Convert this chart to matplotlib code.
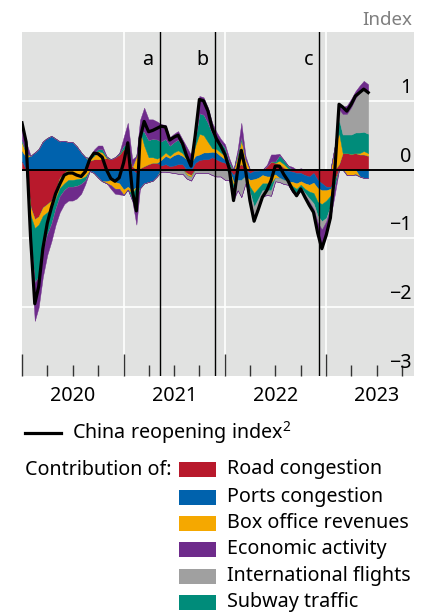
import matplotlib
matplotlib.use("Agg")
import matplotlib.pyplot as plt
import matplotlib.transforms as mtransforms
from matplotlib.lines import Line2D
from matplotlib.patches import Rectangle
import numpy as np
import pandas as pd

plt.rcParams['font.family'] = ['Noto Sans', 'DejaVu Sans']
plt.rcParams['mathtext.fontset'] = 'custom'
plt.rcParams['mathtext.rm'] = 'Noto Sans'

# ---------------- data (semi-monthly readings) ----------------
dates = pd.to_datetime([f"{y}-{m:02d}-{d:02d}" for y in range(2020, 2024)
                        for m in range(1, 13) for d in (1, 16)])
dates = dates[dates <= pd.Timestamp("2023-06-01")]

reopening_index = [
    0.68, 0.40, -1.00, -1.95, -1.70, -1.15, -0.78, -0.55, -0.35, -0.21,
    -0.08, -0.05, -0.05, -0.08, -0.10, -0.03, 0.15, 0.24, 0.23, 0.18,
    -0.01, -0.13, -0.17, -0.12, 0.10, 0.39, -0.30, -0.60, 0.45, 0.70,
    0.55, 0.57, 0.60, 0.63, 0.62, 0.43, 0.47, 0.50, 0.38, 0.20,
    0.05, 0.50, 1.02, 1.00, 0.85, 0.60, 0.45, 0.35, 0.22, 0.02,
    -0.45, 0.00, 0.28, 0.00, -0.45, -0.75, -0.58, -0.40, -0.30, -0.16,
    0.05, 0.05, -0.07, -0.16, -0.29, -0.38, -0.28, -0.40, -0.52, -0.62,
    -0.92, -1.15, -0.95, -0.70, 0.00, 0.95, 0.91, 0.85, 0.95, 1.07,
    1.12, 1.17, 1.12]

road_congestion = [
    0.12, 0.00, -0.55, -0.72, -0.68, -0.55, -0.50, -0.45, -0.30, -0.12,
    -0.05, 0.00, 0.00, 0.00, 0.00, 0.03, 0.13, 0.15, 0.15, 0.15,
    0.17, 0.15, 0.18, 0.22, 0.30, 0.30, 0.05, -0.05, 0.02, 0.05,
    0.08, 0.10, 0.10, 0.06, 0.08, 0.05, 0.06, 0.08, 0.08, -0.05,
    -0.08, 0.10, 0.14, 0.15, 0.15, 0.18, 0.15, 0.12, 0.10, 0.05,
    -0.08, 0.05, 0.08, 0.03, -0.05, -0.02, -0.02, 0.00, 0.05, 0.12,
    0.10, 0.08, 0.03, -0.02, -0.03, -0.05, -0.05, -0.08, -0.10, -0.05,
    -0.15, -0.20, -0.25, -0.25, -0.15, 0.08, 0.24, 0.24, 0.23, 0.24,
    0.22, 0.22, 0.20]

ports_congestion = [
    0.15, 0.18, 0.20, 0.25, 0.30, 0.41, 0.46, 0.49, 0.45, 0.41,
    0.42, 0.40, 0.40, 0.34, 0.25, 0.15, -0.02, -0.05, -0.12, -0.17,
    -0.17, -0.15, -0.18, -0.20, -0.29, -0.25, -0.30, -0.20, -0.27, -0.20,
    -0.18, -0.16, -0.10, 0.08, 0.12, 0.12, 0.15, 0.15, 0.12, 0.15,
    0.10, 0.10, 0.08, 0.10, 0.10, 0.08, 0.10, 0.08, 0.05, 0.02,
    -0.10, -0.15, -0.15, -0.10, -0.10, -0.12, -0.10, -0.08, -0.10, -0.10,
    -0.07, -0.12, -0.15, -0.15, -0.15, -0.15, -0.12, -0.12, -0.12, -0.14,
    -0.12, -0.10, -0.05, -0.03, 0.00, 0.00, 0.00, 0.00, 0.00, 0.00,
    -0.10, -0.12, -0.12]

box_office = [
    0.12, 0.05, -0.12, -0.13, -0.12, -0.12, -0.12, -0.12, -0.12, -0.15,
    -0.15, -0.15, -0.15, -0.14, -0.13, -0.10, 0.02, 0.05, 0.12, 0.10,
    -0.03, -0.08, -0.10, -0.08, -0.08, -0.04, -0.05, 0.20, 0.55, 0.30,
    0.10, 0.08, 0.06, 0.05, 0.05, 0.03, 0.04, 0.05, 0.04, -0.03,
    -0.03, 0.15, 0.30, 0.25, 0.15, 0.05, 0.05, 0.05, 0.05, -0.05,
    -0.05, 0.15, 0.35, 0.12, -0.10, -0.20, -0.15, -0.12, -0.10, -0.10,
    -0.05, 0.05, 0.05, 0.02, -0.06, -0.08, -0.05, -0.08, -0.10, -0.15,
    -0.20, -0.20, -0.15, -0.10, 0.35, 0.45, 0.00, -0.08, -0.08, -0.07,
    0.02, 0.05, 0.04]

subway_traffic = [
    0.04, 0.02, -0.35, -0.80, -0.75, -0.50, -0.32, -0.22, -0.15, -0.12,
    -0.10, -0.10, -0.10, -0.10, -0.08, -0.06, 0.02, 0.04, 0.03, 0.05,
    0.02, 0.00, 0.00, 0.02, 0.05, 0.08, -0.10, -0.15, 0.00, 0.20,
    0.25, 0.27, 0.28, 0.22, 0.20, 0.15, 0.15, 0.16, 0.10, 0.05,
    0.03, 0.10, 0.30, 0.30, 0.28, 0.22, 0.15, 0.15, 0.12, 0.05,
    -0.07, 0.05, 0.05, 0.00, -0.08, -0.20, -0.15, -0.10, -0.10, -0.10,
    0.02, 0.08, 0.06, 0.04, -0.05, -0.06, -0.04, -0.06, -0.10, -0.15,
    -0.20, -0.25, -0.25, -0.15, -0.10, 0.20, 0.27, 0.27, 0.28, 0.30,
    0.30, 0.28, 0.28]

international_flights = [
    0.00, 0.00, 0.00, 0.00, 0.00, 0.00, 0.00, 0.00, 0.00, 0.00,
    0.00, 0.00, 0.00, 0.00, 0.00, 0.00, 0.00, 0.00, 0.00, 0.00,
    0.00, 0.00, 0.00, 0.00, 0.00, 0.00, 0.00, 0.00, 0.00, 0.00,
    0.00, 0.00, 0.00, -0.03, -0.03, -0.04, -0.05, -0.06, -0.06, -0.05,
    -0.05, -0.05, -0.05, -0.05, -0.05, -0.08, -0.10, -0.10, -0.15, -0.10,
    -0.10, -0.15, -0.25, -0.10, -0.07, -0.15, -0.10, -0.07, -0.07, -0.08,
    -0.05, -0.06, -0.06, -0.05, -0.04, -0.04, -0.04, -0.04, -0.05, -0.08,
    -0.10, -0.12, -0.05, -0.02, 0.00, 0.15, 0.30, 0.30, 0.40, 0.50,
    0.58, 0.62, 0.60]

economic_activity = [
    0.25, 0.15, -0.18, -0.55, -0.45, -0.39, -0.30, -0.25, -0.23, -0.23,
    -0.20, -0.20, -0.20, -0.18, -0.14, -0.05, 0.00, 0.05, 0.05, 0.05,
    0.00, -0.05, -0.07, -0.08, 0.12, 0.30, 0.10, -0.40, 0.15, 0.35,
    0.30, 0.28, 0.26, 0.25, 0.20, 0.12, 0.12, 0.12, 0.10, 0.13,
    0.08, 0.10, 0.25, 0.25, 0.22, 0.15, 0.10, 0.05, 0.05, 0.05,
    -0.05, 0.05, 0.20, 0.05, -0.05, -0.06, -0.06, -0.03, 0.02, 0.10,
    0.10, 0.02, 0.00, 0.00, 0.04, 0.00, 0.02, -0.02, -0.05, -0.05,
    -0.15, -0.28, -0.20, -0.15, -0.10, 0.07, 0.10, 0.12, 0.12, 0.10,
    0.10, 0.12, 0.12]

series_names = ["Road congestion", "Ports congestion", "Box office revenues",
                "Economic activity", "International flights", "Subway traffic"]
series_values = {
    "Road congestion": road_congestion,
    "Ports congestion": ports_congestion,
    "Box office revenues": box_office,
    "Economic activity": economic_activity,
    "International flights": international_flights,
    "Subway traffic": subway_traffic,
}
colors = {
    "Road congestion": "#B8192C",
    "Ports congestion": "#0062AD",
    "Box office revenues": "#F5A800",
    "Economic activity": "#6E2B8B",
    "International flights": "#A0A0A0",
    "Subway traffic": "#008C7A",
}
stack_order = ["Road congestion", "Ports congestion", "Box office revenues",
               "Subway traffic", "International flights", "Economic activity"]

event_dates = ["2021-05-12", "2021-11-25", "2022-12-07"]
event_labels = ["a", "b", "c"]
year_labels = ["2020", "2021", "2022", "2023"]
yticks = [1, 0, -1, -2, -3]

FS = 14.2

# ---------------- figure ----------------
W, H = 427, 615
fig = plt.figure(figsize=(W / 100, H / 100), dpi=100)
L, R, T, B = 22, 414, 32, 376
ax = fig.add_axes([L / W, 1 - B / H, (R - L) / W, (B - T) / H])
ax.set_facecolor("#E1E2E1")
for s in ax.spines.values():
    s.set_visible(False)
ax.set_xlim(pd.Timestamp("2020-01-01"), pd.Timestamp("2023-11-13"))
ax.set_ylim(-3, 2)

# gridlines
for yv in [1, -1, -2]:
    ax.axhline(yv, color="white", lw=1.2, zorder=0.5)
for yr in year_labels[1:]:
    ax.axvline(pd.Timestamp(f"{yr}-01-01"), color="white", lw=1.2, zorder=0.5)

# stacked contributions
pos_base = np.zeros(len(dates))
neg_base = np.zeros(len(dates))
for name in stack_order:
    v = np.array(series_values[name], dtype=float)
    p = np.clip(v, 0, None)
    q = np.clip(v, None, 0)
    ax.fill_between(dates, pos_base, pos_base + p, color=colors[name], lw=0.3,
                    edgecolor=colors[name], zorder=2)
    ax.fill_between(dates, neg_base, neg_base + q, color=colors[name], lw=0.3,
                    edgecolor=colors[name], zorder=2)
    pos_base = pos_base + p
    neg_base = neg_base + q

ax.axhline(0, color="black", lw=1.4, zorder=3)

for d, lab in zip(event_dates, event_labels):
    ax.axvline(pd.Timestamp(d), color="black", lw=1.0, zorder=3)
    ax.annotate(lab, xy=(pd.Timestamp(d), 1.59), xytext=(-4.5, 0),
                textcoords="offset points", ha="right", va="center",
                fontsize=FS, color="black", zorder=5)

ax.plot(dates, reopening_index, color="black", lw=2.3, zorder=4,
        solid_joinstyle="round")

# ticks
ax.set_xticks([pd.Timestamp(f"{y}-01-01") for y in range(2020, 2024)])
ax.set_xticks([pd.Timestamp(f"{y}-{m:02d}-01") for y in range(2020, 2024)
               for m in (4, 7, 10)], minor=True)
ax.tick_params(axis="x", which="major", direction="in", length=16, width=1.0,
               color="#333333", labelbottom=False)
ax.tick_params(axis="x", which="minor", direction="in", length=8, width=1.0,
               color="#333333")
ax.set_yticks([])

trans = mtransforms.blended_transform_factory(ax.transData, ax.transAxes)
for yr in year_labels:
    ax.text(pd.Timestamp(f"{yr}-07-02"), -0.058, yr, transform=trans,
            ha="center", va="center", fontsize=FS, color="black")

trans_y = mtransforms.blended_transform_factory(ax.transAxes, ax.transData)
for yv in yticks:
    lab = str(yv).replace("-", "\u2212")
    ax.text(0.993, yv + 0.19, lab, transform=trans_y, ha="right",
            va="center", fontsize=FS, color="black", zorder=5)

fig.text(412 / W, 1 - 20 / H, "Index", ha="right", va="center",
         fontsize=13.5, color="#7F7F7F")

# legend
def fx(px):
    return px / W


def fy(py):
    return 1 - py / H


fig.add_artist(Line2D([fx(25), fx(61)], [fy(433), fy(433)], color="black",
                      lw=2.3, transform=fig.transFigure))
fig.text(fx(72), fy(433), "China reopening index$^{2}$", ha="left",
         va="center", fontsize=FS)
fig.text(fx(25), fy(470), "Contribution of:", ha="left", va="center",
         fontsize=FS)
row_y = [469, 497, 523, 549, 576, 602]
for name, yy in zip(series_names, row_y):
    fig.add_artist(Rectangle((fx(179), fy(yy + 7.5)), fx(216) - fx(179),
                             15 / H, facecolor=colors[name], edgecolor="none",
                             transform=fig.transFigure))
    fig.text(fx(227), fy(yy), name, ha="left", va="center", fontsize=FS)

fig.savefig("out.png", dpi=100)
